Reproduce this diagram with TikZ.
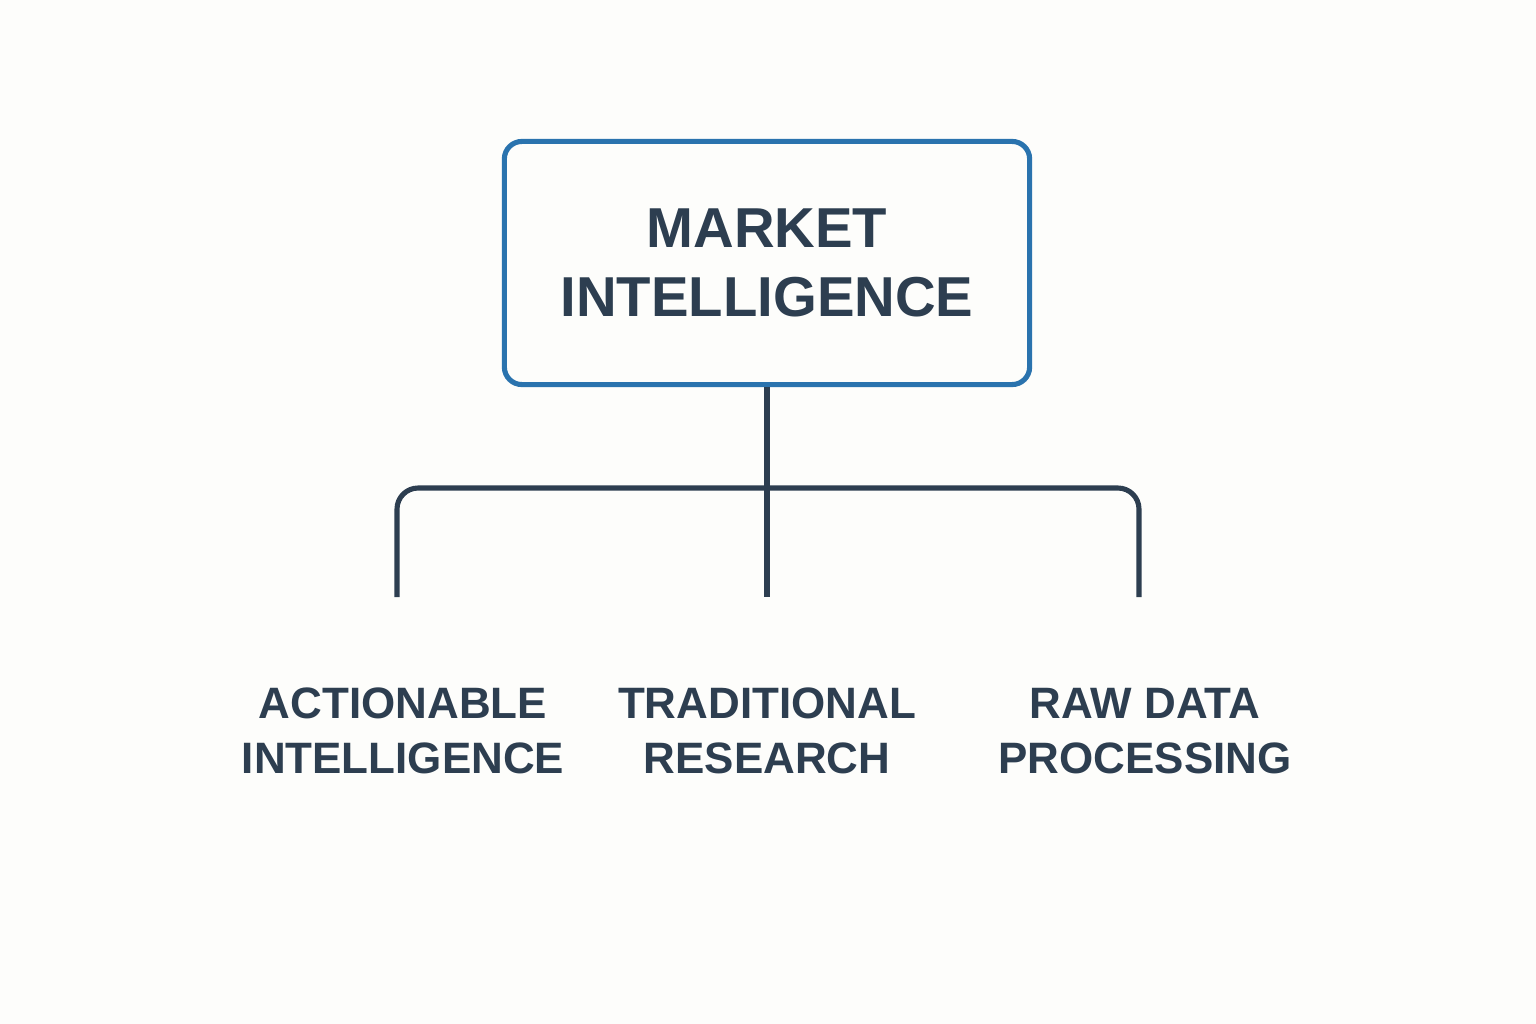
\documentclass[tikz,border=0pt]{standalone}
\usepackage{fontspec}
\setmainfont{Liberation Sans}
\begin{document}
\begin{tikzpicture}[x=0.01cm,y=-0.01cm,
  conn/.style={line width=1.45pt,draw=ink},
  lbl/.style={font=\bfseries\fontsize{12.5}{15.8}\selectfont,text=ink,align=center}]
\definecolor{ink}{HTML}{2D3E50}
\definecolor{blueb}{HTML}{2A73AE}
\definecolor{bg}{HTML}{FDFDFB}
\fill[bg] (0,0) rectangle (1536,1024);
\useasboundingbox (0,0) rectangle (1536,1024);
\node[draw=blueb,line width=1.45pt,rounded corners=5pt,minimum width=5.25cm,minimum height=2.43cm,
  font=\bfseries\fontsize{16}{19.8}\selectfont,text=ink,align=center] (top) at (767,263) {MARKET\\INTELLIGENCE};
\coordinate (j) at (767,488);
\coordinate (l) at (397,597);
\coordinate (m) at (767,597);
\coordinate (r) at (1139,597);
\draw[conn] (top.south) -- (m);
\draw[conn,rounded corners=6pt] (l) |- (j) -| (r);
\node[lbl] (a) at (403,731) {ACTIONABLE\\INTELLIGENCE};
\node[lbl] (b) at (767,731) {TRADITIONAL\\RESEARCH};
\node[lbl] (c) at (1145,731) {RAW DATA\\PROCESSING};
\end{tikzpicture}
\end{document}
